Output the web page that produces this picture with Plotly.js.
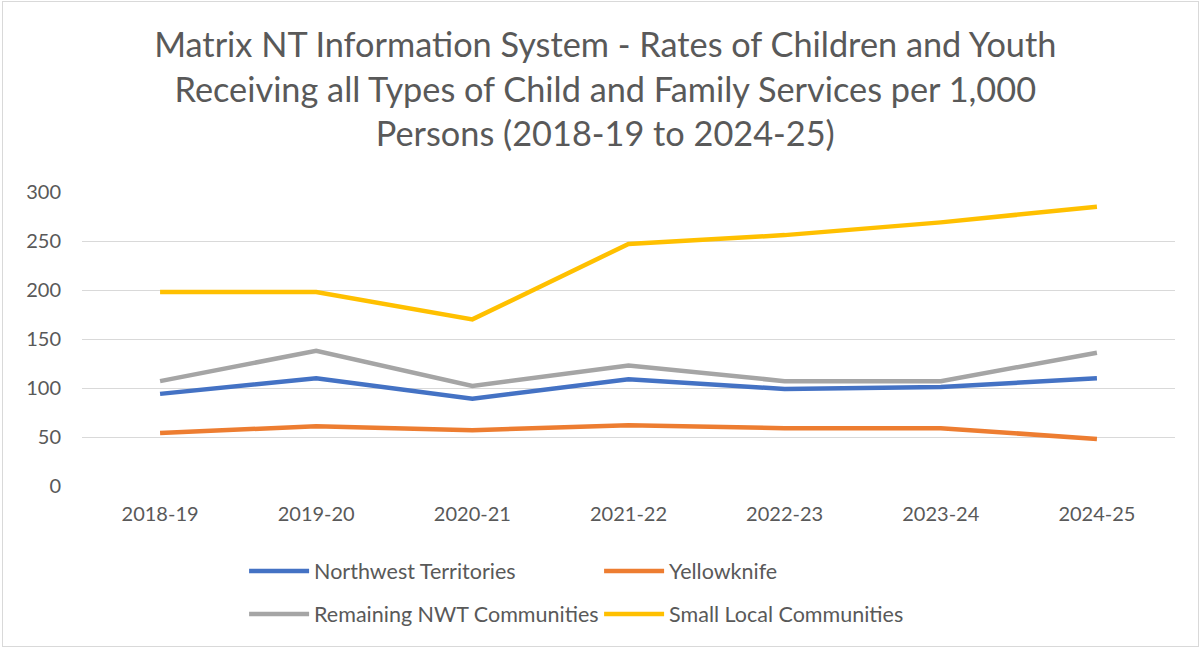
<!DOCTYPE html>
<html>
<head>
<meta charset="utf-8">
<script src="https://cdn.plot.ly/plotly-3.0.1.min.js"></script>
<style>
html,body{margin:0;padding:0;background:#fff;}
#wrap{position:relative;width:1201px;height:648px;}
#chart{width:1201px;height:648px;}
#frame{position:absolute;left:2px;top:1px;width:1195px;height:644px;border:1px solid #d9d9d9;pointer-events:none;}
</style>
</head>
<body>
<div id="wrap"><div id="chart"></div><div id="frame"></div></div>
<script>
const categories = ["2018-19","2019-20","2020-21","2021-22","2022-23","2023-24","2024-25"];
const northwestTerritories = [94, 110, 89, 109, 99, 101, 110];
const yellowknife = [54, 61, 57, 62, 59, 59, 48];
const remainingNWT = [107, 138, 102, 123, 107, 107, 136];
const smallLocal = [198, 198, 170, 247, 256, 269, 285];
const yTicks = [0, 50, 100, 150, 200, 250, 300];

const FONT = "Lato, 'Open Sans', sans-serif";
const TXT = "#595959";

function tr(name, y, color, legend) {
  return {type:"scatter", mode:"lines", name:name, x:categories, y:y,
    line:{color:color, width:4.5}, legend:legend, hoverinfo:"x+y+name"};
}

const data = [
  tr("Northwest Territories", northwestTerritories, "#4472C4", "legend"),
  tr("Yellowknife", yellowknife, "#ED7D31", "legend"),
  tr("Remaining NWT Communities", remainingNWT, "#A5A5A5", "legend2"),
  tr("Small Local Communities", smallLocal, "#FFC000", "legend2")
];

const legendBase = {
  orientation:"h", xanchor:"left", yanchor:"middle", x:0.1483,
  font:{family:FONT, size:21.5, color:TXT}, itemwidth:60, entrywidth:280,
  bgcolor:"rgba(0,0,0,0)", traceorder:"normal"
};

const layout = {
  width:1201, height:648,
  margin:{l:82, r:26, t:192, b:162},
  paper_bgcolor:"#fff", plot_bgcolor:"#fff",
  title:{text:"Matrix NT Information System - Rates of Children and Youth<br>Receiving all Types of Child and Family Services per 1,000<br>Persons (2018-19 to 2024-25)",
    font:{family:FONT, size:34.3, color:TXT}, x:0.504, xanchor:"center", xref:"container",
    y:1-57/648, yanchor:"top", yref:"container"},
  xaxis:{type:"category", range:[-0.5, 6.5], showgrid:false, zeroline:false, showline:false,
    ticks:"", tickfont:{family:FONT, size:20, color:TXT}, ticklabelstandoff:14},
  yaxis:{range:[0,300], tickvals:yTicks, ticktext:yTicks.map(String), showgrid:true, gridcolor:"#d9d9d9", gridwidth:1,
    zeroline:false, showline:false, ticks:"", tickfont:{family:FONT, size:20, color:TXT}, ticklabelstandoff:20},
  showlegend:true,
  legend:Object.assign({}, legendBase, {y:(486-571)/294}),
  legend2:Object.assign({}, legendBase, {y:(486-614)/294})
};

Plotly.newPlot("chart", data, layout, {displayModeBar:false, staticPlot:true});
</script>
</body>
</html>
